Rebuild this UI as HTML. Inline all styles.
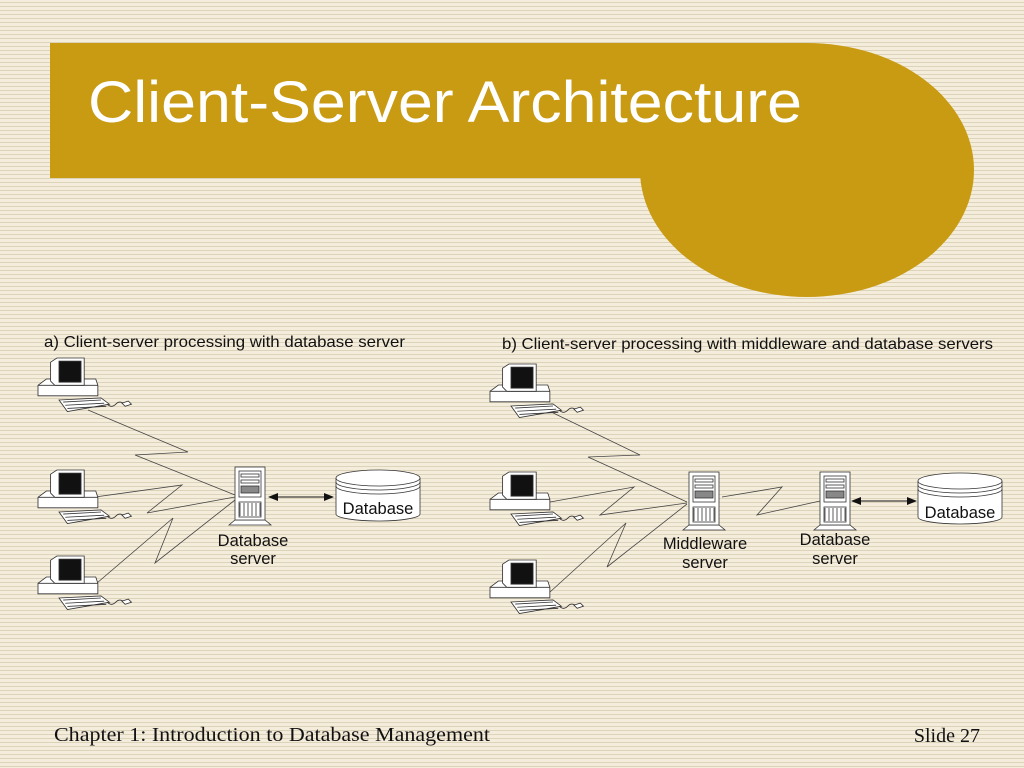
<!DOCTYPE html>
<html><head><meta charset="utf-8">
<style>
html,body{margin:0;padding:0;}
body{width:1024px;height:768px;overflow:hidden;
background:repeating-linear-gradient(to bottom,#f5eddc 0px,#f5eddc 2px,#ddd2ba 2px,#ddd2ba 3px,#f5eddc 3px,#f5eddc 4px);}
svg{display:block}
text{font-family:"Liberation Sans",sans-serif;fill:#111}
</style></head><body>
<svg width="1024" height="768" viewBox="0 0 1024 768" xmlns="http://www.w3.org/2000/svg">
<defs>
 <g id="pc" stroke="#333" stroke-width="0.8" fill="#fff">
  <path d="M0 26 L8 20 L55 20 L57 26 L57 36 L0 36 Z"/>
  <line x1="0" y1="26" x2="57" y2="26"/>
  <path d="M12 4 L18 0 L44 0 L44 26 L16 26 L12 22 Z"/>
  <rect x="20" y="3" width="21" height="20" fill="#111"/>
  <path d="M20 40 L60 38 L68 44 L28 51 Z"/>
  <path d="M24 42 L60 40 M26 45 L63 43 M28 48 L65 46" fill="none"/>
  <path d="M66 44 q4 4 8 0 q4 -4 8 0" fill="none"/>
  <path d="M80 43 l6 -2 l3 3 l-6 2 z"/>
 </g>
 <g id="srv" stroke="#333" stroke-width="0.8" fill="#fff">
  <path d="M-6 58 L0 53 L30 53 L36 58 Z"/>
  <rect x="0" y="0" width="30" height="53"/>
  <rect x="4" y="4" width="22" height="26"/>
  <rect x="6" y="7" width="18" height="3"/>
  <rect x="6" y="13" width="18" height="3"/>
  <rect x="6" y="19" width="18" height="7" fill="#888"/>
  <path d="M5 36 v13 M9 36 v13 M13 36 v13 M17 36 v13 M21 36 v13 M25 36 v13" fill="none"/>
  <rect x="4" y="35" width="22" height="15" fill="none"/>
 </g>
 <g id="db" stroke="#333" stroke-width="0.8" fill="#fff">
  <path d="M0 8 L0 44 A42 7 0 0 0 84 44 L84 8"/>
  <ellipse cx="42" cy="8" rx="42" ry="8"/>
  <path d="M0 12 A42 8 0 0 0 84 12 M0 16 A42 8 0 0 0 84 16" fill="none"/>
 </g>
 <marker id="ah" markerWidth="10" markerHeight="8" refX="9" refY="4" orient="auto-start-reverse" markerUnits="userSpaceOnUse">
  <path d="M0 0 L10 4 L0 8 Z" fill="#111"/>
 </marker>
</defs>

<rect x="50" y="43" width="760" height="135" fill="#c89b12"/>
<ellipse cx="807" cy="170" rx="167" ry="127" fill="#c89b12"/>
<text x="88" y="122" font-size="58" textLength="714" lengthAdjust="spacingAndGlyphs" style="fill:#fff">Client-Server Architecture</text>

<text x="44" y="347" font-size="16" textLength="361" lengthAdjust="spacingAndGlyphs">a) Client-server processing with database server</text>
<g fill="none" stroke="#444" stroke-width="0.8">
 <polyline points="88,410 188,452 135,455 235,495"/>
 <polyline points="95,497 182,485 147,513 235,497"/>
 <polyline points="97,583 173,518 155,563 235,500"/>
</g>
<g transform="translate(38,358) scale(1.05)"><use href="#pc"/></g>
<g transform="translate(38,470) scale(1.05)"><use href="#pc"/></g>
<g transform="translate(38,556) scale(1.05)"><use href="#pc"/></g>
<use href="#srv" x="235" y="467"/>
<line x1="269" y1="497" x2="333" y2="497" stroke="#111" stroke-width="1" marker-start="url(#ah)" marker-end="url(#ah)"/>
<use href="#db" x="336" y="470"/>
<text x="378" y="514" font-size="16.5" text-anchor="middle">Database</text>
<text x="253" y="546" font-size="16.5" text-anchor="middle">Database</text>
<text x="253" y="564" font-size="16.5" text-anchor="middle">server</text>

<text x="502" y="349" font-size="16" textLength="491" lengthAdjust="spacingAndGlyphs">b) Client-server processing with middleware and database servers</text>
<g fill="none" stroke="#444" stroke-width="0.8">
 <polyline points="545,409 640,455 588,457 687,502"/>
 <polyline points="550,502 634,487 600,515 687,503"/>
 <polyline points="550,592 626,523 607,567 687,504"/>
 <polyline points="722,497 782,487 757,515 820,501"/>
</g>
<g transform="translate(490,364) scale(1.05)"><use href="#pc"/></g>
<g transform="translate(490,472) scale(1.05)"><use href="#pc"/></g>
<g transform="translate(490,560) scale(1.05)"><use href="#pc"/></g>
<use href="#srv" x="689" y="472"/>
<use href="#srv" x="820" y="472"/>
<line x1="852" y1="501" x2="916" y2="501" stroke="#111" stroke-width="1" marker-start="url(#ah)" marker-end="url(#ah)"/>
<use href="#db" x="918" y="473"/>
<text x="960" y="518" font-size="16.5" text-anchor="middle">Database</text>
<text x="705" y="549" font-size="16.5" text-anchor="middle">Middleware</text>
<text x="705" y="568" font-size="16.5" text-anchor="middle">server</text>
<text x="835" y="545" font-size="16.5" text-anchor="middle">Database</text>
<text x="835" y="564" font-size="16.5" text-anchor="middle">server</text>

<text x="54" y="741" font-size="20" textLength="436" lengthAdjust="spacingAndGlyphs" style="font-family:'Liberation Serif',serif">Chapter 1: Introduction to Database Management</text>
<text x="980" y="742" font-size="20" text-anchor="end" style="font-family:'Liberation Serif',serif">Slide 27</text>
</svg>
</body></html>
